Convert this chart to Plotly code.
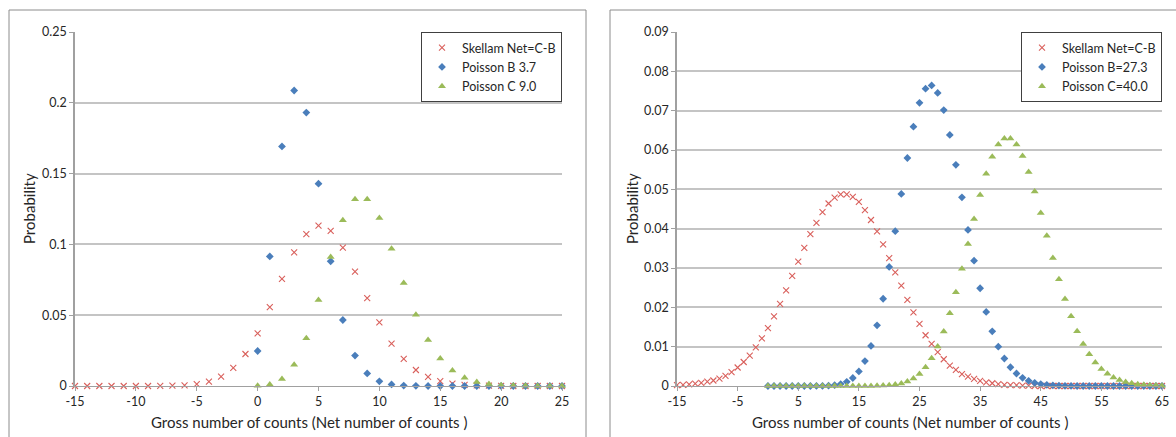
import plotly.graph_objects as go

W, H = 1176, 437

# ---------------- Left panel data ----------------
left_skellam_x = list(range(-15, 26))
left_skellam_y = [0, 0, 0, 0, 0, 0, 0, 0.0001, 0.0002, 0.0005, 0.0013, 0.0031, 0.0066,
                  0.0128, 0.0226, 0.0372, 0.0557, 0.0757, 0.0943, 0.1073, 0.1132, 0.1095,
                  0.0977, 0.0807, 0.0620, 0.0449, 0.0300, 0.0192, 0.0113, 0.0064, 0.0034,
                  0.0017, 0.0008, 0.0004, 0.0002, 0.0001, 0, 0, 0, 0, 0]
left_pois_x = list(range(0, 26))
left_poisB_y = [0.0247, 0.0915, 0.1692, 0.2087, 0.1931, 0.1429, 0.0881, 0.0466, 0.0215,
                0.0089, 0.0033, 0.0011, 0.0003, 0.0001, 0, 0, 0, 0, 0, 0, 0, 0, 0, 0, 0, 0]
left_poisC_y = [0.0001, 0.0011, 0.0050, 0.0150, 0.0337, 0.0607, 0.0911, 0.1171, 0.1318,
                0.1318, 0.1186, 0.0970, 0.0728, 0.0504, 0.0324, 0.0194, 0.0109, 0.0058,
                0.0029, 0.0014, 0.0006, 0.0003, 0.0001, 0, 0, 0]
left_names = ["Skellam Net=C-B", "Poisson B 3.7", "Poisson C 9.0"]
left_xticks = [-15, -10, -5, 0, 5, 10, 15, 20, 25]
left_xtext = ["-15", "-10", "-5", "0", "5", "10", "15", "20", "25"]
left_yticks = [0, 0.05, 0.1, 0.15, 0.2, 0.25]
left_ytext = ["0", "0.05", "0.1", "0.15", "0.2", "0.25"]

# ---------------- Right panel data ----------------
right_skellam_x = list(range(-15, 66))
right_skellam_y = [0.0002, 0.0003, 0.0004, 0.0006, 0.0008, 0.0011, 0.0014, 0.0019, 0.0026,
                   0.0035, 0.0047, 0.0061, 0.0077, 0.0098, 0.0121, 0.0147, 0.0177, 0.0209,
                   0.0243, 0.0280, 0.0316, 0.0351, 0.0386, 0.0415, 0.0442, 0.0464, 0.0479,
                   0.0487, 0.0487, 0.0481, 0.0468, 0.0447, 0.0422, 0.0393, 0.0360, 0.0325,
                   0.0289, 0.0255, 0.0219, 0.0187, 0.0158, 0.0129, 0.0107, 0.0086, 0.0068,
                   0.0052, 0.0041, 0.0030, 0.0024, 0.0018, 0.0013, 0.0009, 0.0007, 0.0005,
                   0.0003, 0.0002, 0.0002, 0.0001, 0.0001, 0, 0, 0, 0, 0, 0, 0, 0, 0, 0, 0,
                   0, 0, 0, 0, 0, 0, 0, 0, 0, 0, 0]
right_pois_x = list(range(0, 66))
right_poisB_y = [0, 0, 0, 0, 0, 0, 0, 0, 0.00001, 0.00003, 0.00009, 0.00022, 0.0005,
                 0.00105, 0.00204, 0.00371, 0.00634, 0.01018, 0.01543, 0.02218, 0.03027,
                 0.03935, 0.04883, 0.05796, 0.06593, 0.07199, 0.07559, 0.07643, 0.07452,
                 0.07015, 0.06384, 0.05622, 0.04796, 0.03968, 0.03186, 0.02485, 0.01884,
                 0.01390, 0.00999, 0.00699, 0.00477, 0.00318, 0.00207, 0.00131, 0.00081,
                 0.00049, 0.00029, 0.00017, 0.0001, 0.00005, 0.00003, 0, 0, 0, 0, 0, 0,
                 0, 0, 0, 0, 0, 0, 0, 0, 0]
right_poisC_y = [0, 0, 0, 0, 0, 0, 0, 0, 0, 0, 0, 0, 0, 0, 0, 0, 0, 0.00002, 0.00005,
                 0.0001, 0.00019, 0.00037, 0.00066, 0.00116, 0.00193, 0.00308, 0.00475,
                 0.00703, 0.01004, 0.01385, 0.01847, 0.02383, 0.02979, 0.03611, 0.04248,
                 0.04854, 0.05394, 0.05831, 0.06138, 0.06295, 0.06295, 0.06141, 0.05849,
                 0.05441, 0.04946, 0.04397, 0.03823, 0.03254, 0.02712, 0.02214, 0.01771,
                 0.01389, 0.01068, 0.00806, 0.00597, 0.00434, 0.0031, 0.00218, 0.0015,
                 0.00102, 0.00068, 0.00045, 0.00029, 0.00018, 0.00011, 0.00007]
right_names = ["Skellam Net=C-B", "Poisson B=27.3", "Poisson C=40.0"]
right_xticks = [-15, -5, 5, 15, 25, 35, 45, 55, 65]
right_xtext = ["-15", "-5", "5", "15", "25", "35", "45", "55", "65"]
right_yticks = [0, 0.01, 0.02, 0.03, 0.04, 0.05, 0.06, 0.07, 0.08, 0.09]
right_ytext = ["0", "0.01", "0.02", "0.03", "0.04", "0.05", "0.06", "0.07", "0.08", "0.09"]

x_title = "Gross number of counts (Net number of counts )"
y_title = "Probability"

RED = "#D9605C"
BLUE = "#4A7EBB"
GREEN = "#9BBB59"
FONT = "Lato"
TXT = "#262626"
AXC = "#A0A0A0"
GRID = "#C4C4C4"


def px(xp):
    return xp / W


def py(yp):
    return 1 - yp / H


fig = go.Figure()


def add_series(xs, ys, name, color, symbol, xa, ya, legend):
    if symbol == "x-thin":
        marker = dict(symbol="x-thin", size=6, line=dict(width=1.1, color=color), color=color)
    elif symbol == "diamond":
        marker = dict(symbol="diamond", size=6, color=color, line=dict(width=0))
    else:
        marker = dict(symbol="triangle-up", size=7, color=color, line=dict(width=0))
    fig.add_trace(go.Scatter(x=xs, y=ys, mode="markers", name=name, marker=marker,
                             xaxis=xa, yaxis=ya, legend=legend, cliponaxis=False))


add_series(left_skellam_x, left_skellam_y, left_names[0], RED, "x-thin", "x", "y", "legend")
add_series(left_pois_x, left_poisB_y, left_names[1], BLUE, "diamond", "x", "y", "legend")
add_series(left_pois_x, left_poisC_y, left_names[2], GREEN, "triangle", "x", "y", "legend")
add_series(right_skellam_x, right_skellam_y, right_names[0], RED, "x-thin", "x2", "y2", "legend2")
add_series(right_pois_x, right_poisB_y, right_names[1], BLUE, "diamond", "x2", "y2", "legend2")
add_series(right_pois_x, right_poisC_y, right_names[2], GREEN, "triangle", "x2", "y2", "legend2")

y_dom = [py(386), py(32)]
common_x = dict(showgrid=False, zeroline=False, showline=True, linecolor=AXC, linewidth=1,
                ticks="outside", ticklen=4, tickcolor=AXC, tickmode="array",
                tickfont=dict(family=FONT, size=12.5, color=TXT), automargin=False)
common_y = dict(showgrid=True, gridcolor=GRID, gridwidth=1.5, zeroline=False, showline=True,
                linecolor=AXC, linewidth=1.5, ticks="outside", ticklen=4, tickcolor=AXC,
                tickmode="array", tickfont=dict(family=FONT, size=12.5, color=TXT),
                automargin=False)

legend_common = dict(bgcolor="white", bordercolor="#404040", borderwidth=1,
                     font=dict(family=FONT, size=12.5, color=TXT), xanchor="right",
                     yanchor="top", itemwidth=30, tracegroupgap=0)

title_font = dict(family=FONT, size=15, color=TXT)

fig.update_layout(
    width=W, height=H, margin=dict(l=0, r=0, t=0, b=0),
    paper_bgcolor="white", plot_bgcolor="white", showlegend=True,
    xaxis=dict(domain=[px(75), px(562)], range=[-15, 25], tickvals=left_xticks,
               ticktext=left_xtext, anchor="y", **common_x),
    yaxis=dict(domain=y_dom, range=[0, 0.25], tickvals=left_yticks, ticktext=left_ytext,
               anchor="x", **common_y),
    xaxis2=dict(domain=[px(677), px(1162)], range=[-15, 65], tickvals=right_xticks,
                ticktext=right_xtext, anchor="y2", **common_x),
    yaxis2=dict(domain=y_dom, range=[0, 0.09], tickvals=right_yticks, ticktext=right_ytext,
                anchor="x2", **common_y),
    legend=dict(x=px(562), y=py(32), **legend_common),
    legend2=dict(x=px(1162), y=py(32), **legend_common),
    shapes=[
        dict(type="rect", xref="paper", yref="paper", x0=px(9), x1=px(586), y0=-0.2,
             y1=py(10), line=dict(color="#8C8C8C", width=1), layer="below"),
        dict(type="rect", xref="paper", yref="paper", x0=px(610), x1=1.2, y0=-0.2,
             y1=py(10), line=dict(color="#8C8C8C", width=1), layer="below"),
    ],
    annotations=[
        dict(text=x_title, xref="paper", yref="paper", x=px(309), y=py(422), showarrow=False,
             xanchor="center", yanchor="middle", font=title_font),
        dict(text=x_title, xref="paper", yref="paper", x=px(910), y=py(422), showarrow=False,
             xanchor="center", yanchor="middle", font=title_font),
        dict(text=y_title, xref="paper", yref="paper", x=px(29), y=py(209), showarrow=False,
             textangle=-90, xanchor="center", yanchor="middle", font=title_font),
        dict(text=y_title, xref="paper", yref="paper", x=px(632), y=py(209), showarrow=False,
             textangle=-90, xanchor="center", yanchor="middle", font=title_font),
    ],
)

fig.write_html("out.html")
